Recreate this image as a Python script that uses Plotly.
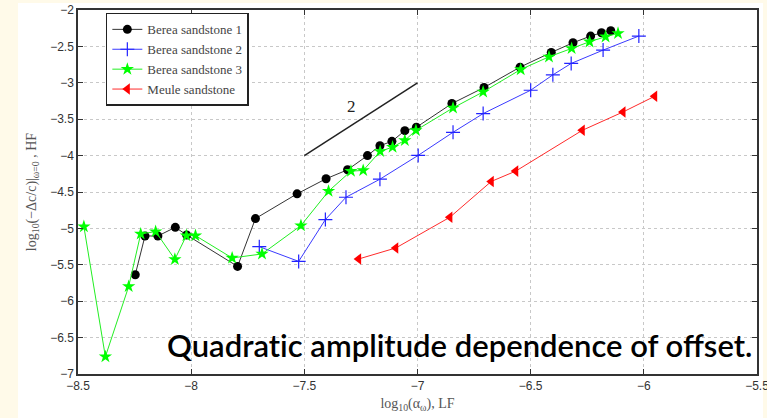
import plotly.graph_objects as go

# Berea sandstone 1 (black circles)
b1_x = [-8.247, -8.204, -8.147, -8.070, -8.020, -7.795, -7.716, -7.532, -7.404, -7.309, -7.221,
        -7.166, -7.113, -7.056, -7.005, -6.848, -6.706, -6.547, -6.409, -6.313, -6.235, -6.187, -6.146]
b1_y = [-5.636, -5.104, -5.104, -4.985, -5.090, -5.522, -4.865, -4.525, -4.318, -4.195, -4.000,
        -3.864, -3.804, -3.657, -3.611, -3.285, -3.065, -2.785, -2.583, -2.450, -2.358, -2.312, -2.285]

# Berea sandstone 2 (blue plus)
b2_x = [-7.699, -7.525, -7.407, -7.316, -7.166, -6.997, -6.843, -6.710, -6.500, -6.402, -6.321, -6.180, -6.022]
b2_y = [-5.251, -5.453, -4.879, -4.572, -4.324, -3.997, -3.680, -3.423, -3.102, -2.891, -2.734, -2.551, -2.358]

# Berea sandstone 3 (green stars)
b3_x = [-8.474, -8.379, -8.276, -8.223, -8.157, -8.072, -8.021, -7.981, -7.819, -7.687, -7.515,
        -7.393, -7.294, -7.240, -7.165, -7.110, -7.056, -7.007, -6.843, -6.710, -6.544, -6.419,
        -6.319, -6.240, -6.169, -6.114]
b3_y = [-4.975, -6.762, -5.797, -5.076, -5.044, -5.425, -5.099, -5.099, -5.406, -5.351, -4.961,
        -4.489, -4.213, -4.204, -3.942, -3.883, -3.791, -3.653, -3.345, -3.125, -2.817, -2.643,
        -2.528, -2.436, -2.367, -2.321]

# Meule sandstone (red triangles)
m_x = [-7.260, -7.096, -6.857, -6.674, -6.566, -6.272, -6.092, -5.952]
m_y = [-5.420, -5.269, -4.847, -4.355, -4.213, -3.653, -3.401, -3.185]

# slope-2 reference line
slope_x = [-7.5, -7.0]
slope_y = [-4.0, -3.0]

x_ticks = [-8.5, -8, -7.5, -7, -6.5, -6, -5.5]
y_ticks = [-7, -6.5, -6, -5.5, -5, -4.5, -4, -3.5, -3, -2.5, -2]

fig = go.Figure()
fig.add_trace(go.Scatter(x=b1_x, y=b1_y, mode="lines+markers", name="Berea sandstone 1",
                         line=dict(color="#333333", width=1),
                         marker=dict(symbol="circle", size=9, color="black")))
fig.add_trace(go.Scatter(x=b2_x, y=b2_y, mode="lines+markers", name="Berea sandstone 2",
                         line=dict(color="#3a3aff", width=1),
                         marker=dict(symbol="cross-thin", size=10, color="#2222ff",
                                     line=dict(color="#2222ff", width=1.2))))
fig.add_trace(go.Scatter(x=b3_x, y=b3_y, mode="lines+markers", name="Berea sandstone 3",
                         line=dict(color="#22ee22", width=1),
                         marker=dict(symbol="star", size=10, color="#00ff00")))
fig.add_trace(go.Scatter(x=m_x, y=m_y, mode="lines+markers", name="Meule sandstone",
                         line=dict(color="#ff2a2a", width=1),
                         marker=dict(symbol="triangle-left", size=10, color="#ff0000")))
fig.add_trace(go.Scatter(x=slope_x, y=slope_y, mode="lines", showlegend=False,
                         line=dict(color="#222222", width=1.5)))

axis_common = dict(showgrid=True, gridcolor="#c8c8c8", griddash="dot", gridwidth=1,
                   zeroline=False, showline=True, linecolor="#333333", linewidth=1.5,
                   mirror="allticks", ticks="inside", ticklen=5, tickcolor="#333333",
                   ticklabeloverflow="allow", automargin=False,
                   tickfont=dict(family="Liberation Sans", size=12, color="#333333"))

fig.update_xaxes(range=[-8.5, -5.5], tickvals=x_ticks,
                 title=dict(text="log<sub>10</sub>(α<sub>ω</sub>), LF",
                            font=dict(family="Liberation Serif", size=14, color="#555555"),
                            standoff=6),
                 **axis_common)
fig.update_yaxes(range=[-7, -2], tickvals=y_ticks,
                 title=dict(text="log<sub>10</sub>(−Δc/c)|<sub>ω=0</sub> , HF",
                            font=dict(family="Liberation Serif", size=14, color="#555555"),
                            standoff=10),
                 **axis_common)

fig.add_annotation(x=-7.29, y=-3.32, text="2", showarrow=False,
                   font=dict(family="Liberation Serif", size=17, color="#222222"))
fig.add_annotation(xref="paper", yref="paper", x=0.995, y=0.022, xanchor="right", yanchor="bottom",
                   text="Quadrat\u200cic amplitude dependence of offset.", showarrow=False,
                   font=dict(family="Lato", size=31, color="black", weight=600))

# white figure area on the cream slide
fig.add_shape(type="rect", xref="paper", yref="paper", x0=-0.0884, x1=1.0088, y0=-0.125, y1=1.0192,
              fillcolor="white", line=dict(width=0), layer="below")

fig.update_layout(
    width=767, height=418,
    margin=dict(l=78, r=10, t=10, b=44),
    paper_bgcolor="#fffae9", plot_bgcolor="white",
    legend=dict(x=0.041, y=0.992, xanchor="left", yanchor="top",
                bgcolor="white", bordercolor="#222222", borderwidth=1.5,
                font=dict(family="Liberation Serif", size=13, color="#444444"),
                itemwidth=30, tracegroupgap=0),
    showlegend=True,
)

fig.write_html("out.html")
